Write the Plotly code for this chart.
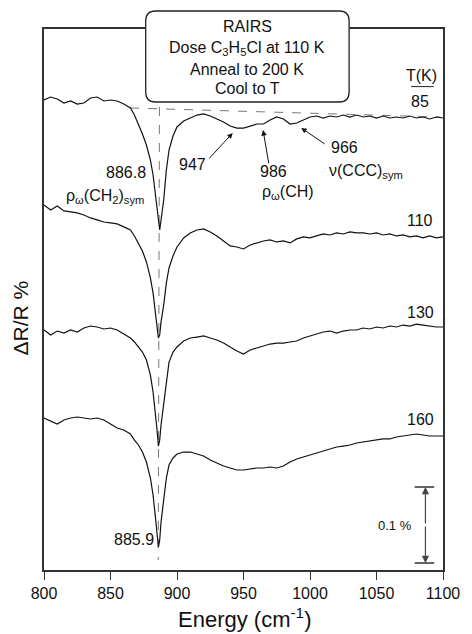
import plotly.graph_objects as go

# ---------------- data ----------------
energy = list(range(800, 870, 5)) + [868, 871, 874, 877, 880, 882, 884, 885, 886, 887,
                                      888, 890, 892, 894, 897, 900] + list(range(905, 1105, 5))

temps = ["85", "110", "130", "160"]

# ΔR/R (%) of each spectrum relative to its own high-energy baseline
dR_85 = [0.0237, 0.0276, 0.0250, 0.0197, 0.0224, 0.0184, 0.0197, 0.0263, 0.0276, 0.0224,
         0.0237, 0.0224, 0.0184, 0.0132,
         0.0039, -0.0079, -0.0211, -0.0355, -0.0553, -0.0750, -0.1053, -0.1211, -0.1395, -0.1474,
         -0.1342, -0.1079, -0.0684, -0.0421, -0.0237, -0.0118,
         -0.0039, 0.0, 0.0039, 0.0053, 0.0026, -0.0013, -0.0053, -0.0105, -0.0132, -0.0132,
         -0.0105, -0.0079, -0.0079, -0.0026, 0.0013, -0.0013, -0.0079, -0.0066, -0.0026, 0.0013,
         0.0026, 0.0, 0.0026, 0.0013, 0.0039, 0.0013, 0.0039, 0.0013, 0.0026, 0.0,
         0.0026, 0.0, 0.0013, 0.0, 0.0026, 0.0, 0.0013, -0.0013, 0.0013, 0.0]

dR_110 = [0.0421, 0.0355, 0.0408, 0.0342, 0.0329, 0.0316, 0.0289, 0.0250, 0.0224, 0.0197,
          0.0184, 0.0171, 0.0132, 0.0092,
          0.0013, -0.0092, -0.0184, -0.0329, -0.0539, -0.0737, -0.1026, -0.1184, -0.1329, -0.1289,
          -0.1118, -0.0895, -0.0605, -0.0408, -0.0250, -0.0132,
          -0.0013, 0.0053, 0.0092, 0.0105, 0.0066, 0.0013, -0.0053, -0.0118, -0.0132, -0.0158,
          -0.0105, -0.0079, -0.0053, -0.0039, -0.0066, -0.0053, -0.0079, -0.0026, 0.0, -0.0013,
          0.0013, 0.0039, 0.0026, 0.0053, 0.0039, 0.0066, 0.0053, 0.0053, 0.0039, 0.0053,
          0.0026, 0.0039, 0.0013, 0.0026, 0.0, 0.0013, -0.0013, 0.0013, -0.0013, 0.0]

dR_130 = [-0.0039, -0.0105, -0.0053, -0.0079, -0.0039, -0.0066, -0.0013, 0.0013, 0.0, -0.0026,
          -0.0013, -0.0039, -0.0092, -0.0145,
          -0.0197, -0.0263, -0.0329, -0.0434, -0.0632, -0.0855, -0.1158, -0.1355, -0.1566, -0.1487,
          -0.1289, -0.1026, -0.0724, -0.0461, -0.0329, -0.0263,
          -0.0184, -0.0145, -0.0132, -0.0118, -0.0145, -0.0171, -0.0211, -0.0263, -0.0316, -0.0355,
          -0.0303, -0.0276, -0.0250, -0.0224, -0.0211, -0.0211, -0.0197, -0.0184, -0.0145, -0.0118,
          -0.0092, -0.0066, -0.0053, -0.0079, -0.0053, -0.0039, -0.0039, -0.0013, -0.0026, 0.0,
          -0.0013, 0.0013, 0.0, 0.0026, 0.0013, 0.0039, 0.0026, 0.0013, 0.0, 0.0]

dR_160 = [0.0237, 0.0197, 0.0158, 0.0211, 0.0237, 0.0250, 0.0237, 0.0224, 0.0237, 0.0211,
          0.0158, 0.0105, 0.0079, 0.0026,
          -0.0053, -0.0118, -0.0211, -0.0342, -0.0553, -0.0776, -0.1105, -0.1303, -0.1461, -0.1368,
          -0.1132, -0.0842, -0.0553, -0.0382, -0.0289, -0.0237,
          -0.0211, -0.0211, -0.0237, -0.0263, -0.0316, -0.0355, -0.0395, -0.0421, -0.0447, -0.0447,
          -0.0434, -0.0421, -0.0421, -0.0408, -0.0421, -0.0395, -0.0342, -0.0303, -0.0276, -0.0250,
          -0.0224, -0.0197, -0.0171, -0.0145, -0.0132, -0.0118, -0.0092, -0.0079, -0.0066, -0.0053,
          -0.0039, -0.0039, -0.0013, 0.0, 0.0013, 0.0026, 0.0013, 0.0, 0.0, 0.0]

spectra = [dR_85, dR_110, dR_130, dR_160]
offsets = [0.5947, 0.4382, 0.3197, 0.1763]   # vertical stacking offsets (%)

x_ticks = [800, 850, 900, 950, 1000, 1050, 1100]

# ---------------- figure ----------------
W, H = 472, 634
L, R, T, B = 44, 20, 29, 64
X0, X1 = 800, 1100
Y0, Y1 = 0.0, 0.7118
FONT = "Liberation Sans, Arial, Helvetica, sans-serif"
INK = "#111111"

fig = go.Figure()
for vals, off, t in zip(spectra, offsets, temps):
    fig.add_trace(go.Scatter(x=energy, y=[v + off for v in vals], mode="lines",
                             line=dict(color=INK, width=1.2), name=t + " K",
                             showlegend=False, hoverinfo="skip"))

def px2paper(px, py):
    return (px - L) / (W - L - R), (H - B - py) / (H - T - B)

# rounded box
bx0, bx1, by0, by1, rr = 148, 356, 11, 102, 10
def P(px, py):
    a, b = px2paper(px, py)
    return f"{a:.5f},{b:.5f}"
path = (f"M {P(bx0 + rr, by0)} L {P(bx1 - rr, by0)} Q {P(bx1, by0)} {P(bx1, by0 + rr)} "
        f"L {P(bx1, by1 - rr)} Q {P(bx1, by1)} {P(bx1 - rr, by1)} "
        f"L {P(bx0 + rr, by1)} Q {P(bx0, by1)} {P(bx0, by1 - rr)} "
        f"L {P(bx0, by0 + rr)} Q {P(bx0, by0)} {P(bx0 + rr, by0)} Z")
shapes = [
    dict(type="path", xref="paper", yref="paper", path=path, fillcolor="white",
         line=dict(color="#222", width=1.3), layer="above"),
    # dashed baseline for 85 K
    dict(type="line", x0=864.7, y0=offsets[0] + 0.0132, x1=1098, y1=offsets[0] + 0.0013,
         line=dict(color="#777", width=1, dash="dash"), layer="below"),
    # dashed vertical guide through the peak
    dict(type="line", x0=886.8, y0=0.6092, x1=885.9, y1=0.0132,
         line=dict(color="#777", width=1, dash="dash"), layer="below"),
    # T(K) underline
    dict(type="line", x0=1076, y0=0.636, x1=1093, y1=0.636,
         line=dict(color="#222", width=1)),
    # scale bar caps
    dict(type="line", x0=1078.7, y0=0.1092, x1=1093.4, y1=0.1092, line=dict(color=INK, width=1.3)),
    dict(type="line", x0=1078.7, y0=0.0092, x1=1093.4, y1=0.0092, line=dict(color=INK, width=1.3)),
]

ann = []
def txt(x, y, s, size=16, xanchor="center", ref="data"):
    ann.append(dict(x=x, y=y, xref="x" if ref == "data" else "paper",
                    yref="y" if ref == "data" else "paper", text=s, showarrow=False,
                    xanchor=xanchor, yanchor="middle",
                    font=dict(family=FONT, size=size, color=INK)))

# box text (paper coords from pixel positions)
for s, py in [("RAIRS", 27), ("Dose C<sub>3</sub>H<sub>5</sub>Cl at 110 K", 48),
              ("Anneal to 200 K", 69), ("Cool to T", 89)]:
    a, b = px2paper(252, py)
    txt(a, b, s, size=16, ref="paper")

# peak labels
txt(877.9, 0.5224, "886.8", xanchor="right")
txt(876.5, 0.4908, "ρ<sub>ω</sub>(CH<sub>2</sub>)<sub>sym</sub>", xanchor="right")
txt(911.8, 0.5329, "947")
txt(972.8, 0.5237, "986")
txt(962.5, 0.4961, "ρ<sub>ω</sub>(CH)", xanchor="left")
txt(1014.0, 0.5553, "966", xanchor="left")
txt(1012.5, 0.5237, "ν(CCC)<sub>sym</sub>", xanchor="left")
txt(884.0, 0.0395, "885.9", xanchor="right")

# temperature labels
txt(1084, 0.650, "T(K)")
for t, y in zip(temps, [0.6158, 0.4605, 0.3382, 0.1974]):
    txt(1083, y, t)

txt(1064, 0.0592, "0.1 %", size=13)

# arrows pointing at weak bands (tip in data coords, tail as pixel offset)
for x, y, ax, ay in [(941.9, 0.5750, -25, 27), (964.7, 0.5789, 6, 35), (993.4, 0.5816, 25, 17)]:
    ann.append(dict(x=x, y=y, xref="x", yref="y", text="", showarrow=True, ax=ax, ay=ay,
                    arrowhead=2, arrowsize=1.1, arrowwidth=1, arrowcolor=INK))
# scale bar arrows
for y, ay in [(0.1092, 38), (0.0092, -38)]:
    ann.append(dict(x=1086.8, y=y, xref="x", yref="y", text="", showarrow=True, ax=0, ay=ay,
                    arrowhead=2, arrowsize=1.2, arrowwidth=1.2, arrowcolor="#444"))

# axis titles
a, b = px2paper(19, 318)
ann.append(dict(x=a, y=b, xref="paper", yref="paper", text="ΔR/R %", textangle=-90,
                xanchor="center", yanchor="middle",
                showarrow=False, font=dict(family=FONT, size=21, color=INK)))
a, b = px2paper(250, 618)
ann.append(dict(x=a, y=b, xref="paper", yref="paper", text="Energy (cm<sup>-1</sup>)",
                xanchor="center", yanchor="middle",
                showarrow=False, font=dict(family=FONT, size=22, color=INK)))

fig.update_layout(
    width=W, height=H, margin=dict(l=L, r=R, t=T, b=B, pad=0),
    paper_bgcolor="white", plot_bgcolor="white",
    shapes=shapes, annotations=ann, showlegend=False,
    xaxis=dict(range=[X0, X1], tickvals=x_ticks, ticks="outside", ticklen=8, tickwidth=1.3,
               tickcolor="#333", showline=True, linecolor="#333", linewidth=1.5, mirror=True,
               showgrid=False, zeroline=False,
               tickfont=dict(family=FONT, size=16, color=INK)),
    yaxis=dict(range=[Y0, Y1], showticklabels=False, ticks="", showline=True,
               linecolor="#333", linewidth=1.5, mirror=True, showgrid=False, zeroline=False),
)

fig.write_html("out.html")
